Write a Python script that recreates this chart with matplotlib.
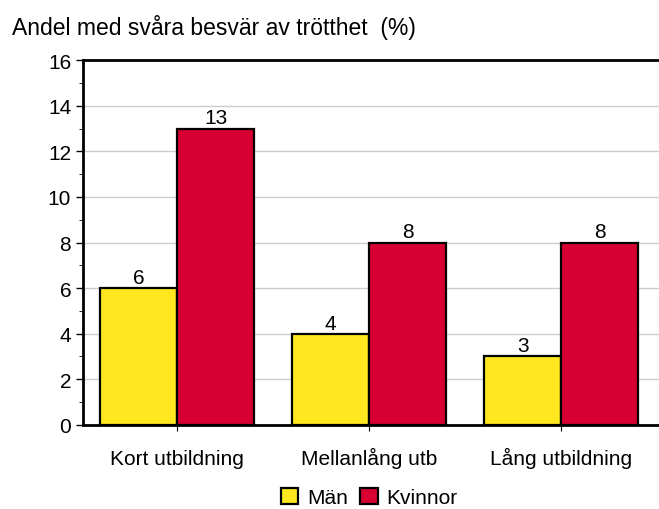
import numpy as np
import matplotlib.pyplot as plt
from matplotlib.ticker import MultipleLocator

plt.rcParams["font.family"] = ["Liberation Sans", "DejaVu Sans"]

categories = ["Kort utbildning", "Mellanlång utb", "Lång utbildning"]
man = [6, 4, 3]
kvinnor = [13, 8, 8]

fig = plt.figure(figsize=(6.59, 5.10), dpi=100)
ax = fig.add_axes([0.126, 0.165, 0.874, 0.715])

x = np.arange(len(categories))
w = 0.4
b1 = ax.bar(x - w/2, man, w, color="#FFE81F", edgecolor="black", linewidth=1.6, label="Män", zorder=3)
b2 = ax.bar(x + w/2, kvinnor, w, color="#D80032", edgecolor="black", linewidth=1.6, label="Kvinnor", zorder=3)
for bars in (b1, b2):
    for r in bars:
        ax.text(r.get_x() + r.get_width()/2, r.get_height() + 0.05, "%d" % r.get_height(),
                ha="center", va="bottom", fontsize=15)

ax.set_xlim(-0.49, 2.51)
ax.set_ylim(0, 16)
ax.set_xticks(x)
ax.set_xticklabels(categories, fontsize=15)
for lab in ax.get_xticklabels():
    lab.set_va("baseline")
ax.yaxis.set_major_locator(MultipleLocator(2))
ax.yaxis.set_minor_locator(MultipleLocator(1))
ax.tick_params(axis="y", labelsize=15, length=5, width=1)
ax.tick_params(axis="y", which="minor", length=3)
ax.tick_params(axis="x", length=4, pad=24)
ax.grid(axis="y", color="#cccccc", linewidth=1, zorder=0)
ax.spines["right"].set_visible(False)
for s in ("left", "top", "bottom"):
    ax.spines[s].set_linewidth(2)

fig.text(0.018, 0.932, "Andel med svåra besvär av trötthet  (%)", fontsize=16.5)
fig.legend(loc="lower center", bbox_to_anchor=(0.56, -0.033), ncol=2, frameon=False,
           fontsize=15, handlelength=0.85, handleheight=0.85, columnspacing=0.6, handletextpad=0.4)

fig.savefig("out.png", dpi=100)
